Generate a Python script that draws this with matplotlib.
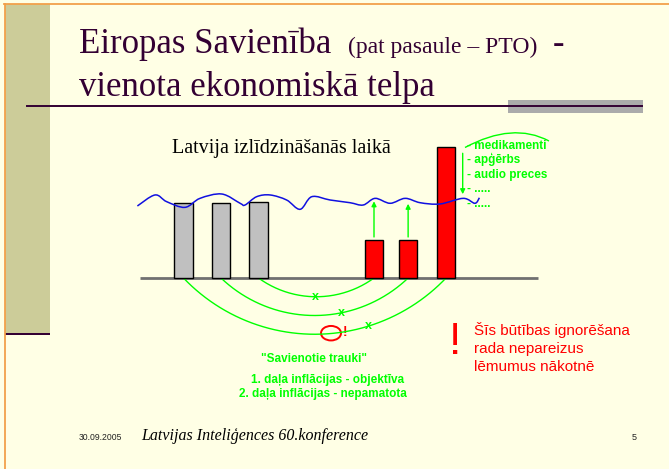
import numpy as np
import matplotlib
matplotlib.use("Agg")
import matplotlib.pyplot as plt
from matplotlib.patches import Rectangle, Ellipse, PathPatch
from matplotlib.path import Path

# ---------------- data ----------------
bar_pos = [0, 1, 2, 5.08, 5.99, 7.0]          # category positions
bar_vals = [100, 100, 101, 51, 51, 175]        # price level (wave ~ 100)
bar_colors = ["#C0C0C0", "#C0C0C0", "#C0C0C0", "#FF0000", "#FF0000", "#FF0000"]
arc_pairs = [(2, 3), (1, 4), (0, 5)]           # "connected vessels"
arc_depths = [25, 50, 75]
arc_mark_x = [3.52, 4.2, 4.93]
wave_x = [-1.23, -0.76, -0.45, 0.04, 0.44, 1.02, 1.51, 1.64, 1.95, 2.31, 2.75, 3.11,
          3.42, 3.91, 4.44, 4.79, 5.11, 5.51, 5.91, 6.31, 6.84, 7.46, 7.77, 7.89]
wave_y = [96, 110.7, 101.8, 94.2, 106.2, 112, 99.6, 97.3, 108.4, 110.7, 104, 91.6,
          108.4, 104, 100.4, 97.3, 106.2, 99.6, 106.2, 100.4, 98.7, 106.2, 99.6, 107]
up_arrows = [(3, 106), (4, 102.7)]             # (bar index, wave level reached)
goods = ["- medikamenti", "- apģērbs", "- audio preces", "- .....", "- ....."]

BG = "#FFFFE5"
GREEN = "#00FF00"
RED = "#FF0000"
PURPLE = "#330033"

fig = plt.figure(figsize=(6.69, 4.69), dpi=100, facecolor=BG)

# ---------------- slide decoration (pixel coordinates) ----------------
deco = fig.add_axes([0, 0, 1, 1])
deco.set_xlim(0, 669)
deco.set_ylim(469, 0)
deco.axis("off")
deco.set_facecolor("none")

deco.add_patch(Rectangle((5, 4), 45, 329, color="#CCCC99", lw=0))
deco.add_patch(Rectangle((5, 333), 45, 2.5, color=PURPLE, lw=0))
deco.plot([4, 669], [4, 4], color="#F2A04A", lw=1.3)
deco.plot([4.5, 4.5], [4, 469], color="#F2A04A", lw=1.3)
deco.add_patch(Rectangle((508, 100), 135, 13, color="#ABABAB", lw=0))
deco.plot([27, 642], [106, 106], color=PURPLE, lw=1.4)

serif = "Liberation Serif"
sans = "Liberation Sans"
deco.text(79, 53, "Eiropas Savienība", family=serif, fontsize=25, color=PURPLE, va="baseline")
deco.text(348, 53, "(pat pasaule – PTO)", family=serif, fontsize=17, color=PURPLE, va="baseline")
deco.text(553, 53, "-", family=serif, fontsize=25, color=PURPLE, va="baseline")
deco.text(79, 96, "vienota ekonomiskā telpa", family=serif, fontsize=25, color=PURPLE, va="baseline")

deco.text(172, 153, "Latvija izlīdzināšanās laikā", family=serif, fontsize=14.5, color="black", va="baseline")

# footer
deco.text(79, 437, "30.09.2005", family=sans, fontsize=6.2, color="#222222", va="center")
deco.text(141.5, 440.5, "Latvijas Inteliģences 60.konference", family=serif, style="italic",
          fontsize=11.5, color="black", va="baseline")
deco.text(634, 438, "5", family=sans, fontsize=6.5, color="#222222", va="center", ha="center")

# right-hand warning
deco.text(455.6, 354.5, "!", family=sans, fontsize=32, color=RED, va="baseline", ha="center")
for i, line in enumerate(["Šīs būtības ignorēšana", "rada nepareizus", "lēmumus nākotnē"]):
    deco.text(474, 335 + 18.2 * i, line, family=sans, fontsize=11, color=RED, va="baseline")

# bottom green labels
deco.text(314, 362, "\"Savienotie trauki\"", family=sans, fontsize=8.5, weight="bold",
          color=GREEN, ha="center", va="baseline")
deco.text(328, 382.6, "1. daļa inflācijas - objektīva", family=sans, fontsize=8.5, weight="bold",
          color=GREEN, ha="center", va="baseline")
deco.text(323, 396.8, "2. daļa inflācijas - nepamatota", family=sans, fontsize=8.5, weight="bold",
          color=GREEN, ha="center", va="baseline")

# ---------------- chart axes ----------------
W, H = 669.0, 469.0
px_left, px_right, px_top, px_bot = 130, 560, 125, 345
x0_px, x_scale = 183.5, 37.5    # px per unit
y0_px, y_scale = 278.0, 0.75
ax = fig.add_axes([px_left / W, (H - px_bot) / H, (px_right - px_left) / W, (px_bot - px_top) / H])
ax.set_xlim((px_left - x0_px) / x_scale, (px_right - x0_px) / x_scale)
ax.set_ylim((y0_px - px_bot) / y_scale, (y0_px - px_top) / y_scale)
ax.axis("off")
ax.set_facecolor("none")

# baseline
base_x = [(140 - x0_px) / x_scale, (538 - x0_px) / x_scale]
ax.plot(base_x, [0, 0], color="#707070", lw=2, zorder=2, solid_capstyle="butt")

ax.bar(bar_pos, bar_vals, width=0.49, color=bar_colors, edgecolor="black", lw=1.0, zorder=3)


def to_disp(x, y):
    return ax.transData.transform(np.column_stack([np.atleast_1d(x), np.atleast_1d(y)]))


def to_data(p):
    return ax.transData.inverted().transform(p)


# connecting arcs (circular in screen space)
for (i, j), d, mx in zip(arc_pairs, arc_depths, arc_mark_x):
    p1 = to_disp(bar_pos[i], 0)[0]
    p2 = to_disp(bar_pos[j], 0)[0]
    pd = to_disp(bar_pos[i], -d)[0]
    s = p1[1] - pd[1]
    h = (p2[0] - p1[0]) / 2
    R = (h * h + s * s) / (2 * s)
    cx, cy = (p1[0] + p2[0]) / 2, p1[1] + (R - s)
    a = np.arcsin(h / R)
    t = np.linspace(-np.pi / 2 - a, -np.pi / 2 + a, 200)
    pts = to_data(np.column_stack([cx + R * np.cos(t), cy + R * np.sin(t)]))
    ax.plot(pts[:, 0], pts[:, 1], color=GREEN, lw=1.0, zorder=2)
    # "x" mark on arc
    mxd = to_disp(mx, 0)[0][0]
    myd = cy - np.sqrt(max(R * R - (mxd - cx) ** 2, 0))
    mpt = to_data(np.array([[mxd, myd]]))[0]
    ax.text(mpt[0], mpt[1], "x", family=sans, fontsize=9, weight="bold", color=GREEN,
            ha="center", va="center", zorder=4)

# red marker on outer arc
deco.add_patch(Ellipse((331, 333.2), 20, 14.5, fill=False, edgecolor=RED, lw=1.4))
deco.text(344.7, 331.5, "!", family=sans, fontsize=10, weight="bold", color=RED,
          ha="center", va="center")

# wavy "European price level" line (Catmull-Rom smoothing)
P = np.column_stack([wave_x, wave_y])
verts = [P[0]]
codes = [Path.MOVETO]
for k in range(len(P) - 1):
    p0 = P[k - 1] if k > 0 else P[k]
    p1, p2 = P[k], P[k + 1]
    p3 = P[k + 2] if k + 2 < len(P) else P[k + 1]
    verts += [p1 + (p2 - p0) / 6, p2 - (p3 - p1) / 6, p2]
    codes += [Path.CURVE4] * 3
ax.add_patch(PathPatch(Path(verts, codes), fill=False, edgecolor="#1010E0", lw=1.1, zorder=5))

# green arrows from cheap goods up to the level
for idx, lvl in up_arrows:
    ax.annotate("", xy=(bar_pos[idx], lvl), xytext=(bar_pos[idx], bar_vals[idx]),
                arrowprops=dict(arrowstyle="-|>", color=GREEN, lw=1.0, mutation_scale=7),
                zorder=4)

# list of goods next to the tall bar
list_x = (466.7 - x0_px) / x_scale
for k, g in enumerate(goods):
    yb = (y0_px - (149 + 14.5 * k)) / y_scale
    ax.text(list_x, yb, g, family=sans, fontsize=8.5, weight="bold", color=GREEN,
            va="baseline", ha="left", zorder=4)

arrow_x = (462.7 - x0_px) / x_scale
ax.annotate("", xy=(arrow_x, (y0_px - 197) / y_scale), xytext=(arrow_x, (y0_px - 150.5) / y_scale),
            arrowprops=dict(arrowstyle="-|>", color=GREEN, lw=1.0, mutation_scale=7), zorder=4)

# arc over the list (quadratic curve in pixel space)
a0, apk, a2 = np.array([465, 147.5]), np.array([510, 133]), np.array([549, 141])
ctrl = 2 * apk - (a0 + a2) / 2
deco.add_patch(PathPatch(Path([a0, ctrl, a2], [Path.MOVETO, Path.CURVE3, Path.CURVE3]),
                         fill=False, edgecolor=GREEN, lw=1.0))

fig.savefig("out.png", dpi=100, facecolor=BG)
